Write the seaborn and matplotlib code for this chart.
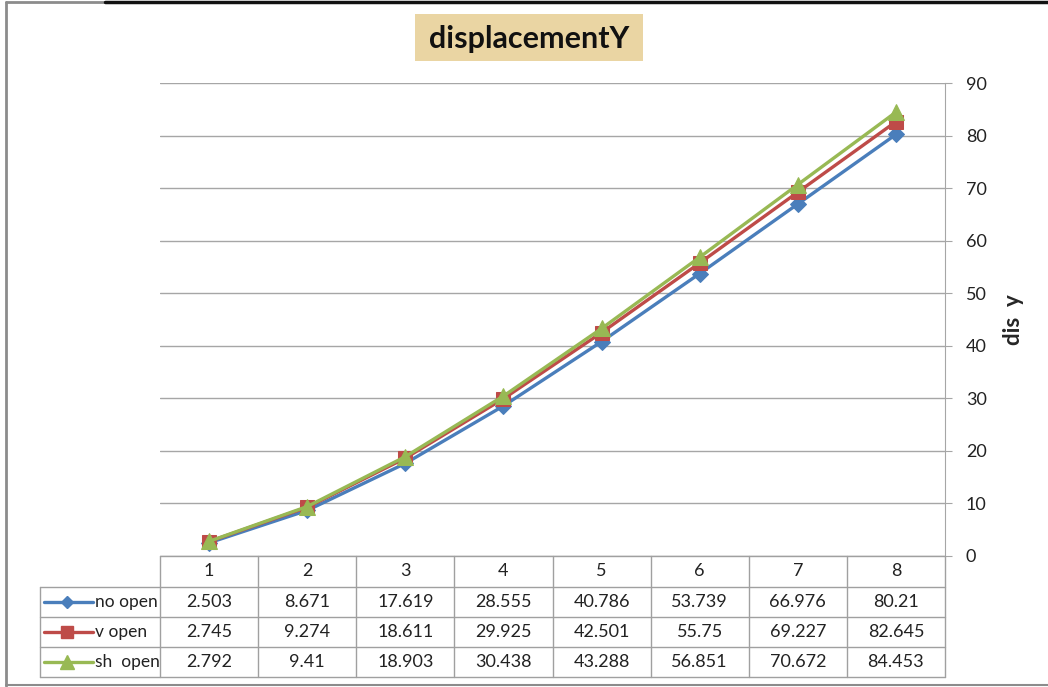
import numpy as np
import pandas as pd
import matplotlib
matplotlib.use("Agg")
import matplotlib.pyplot as plt
import seaborn as sns
from matplotlib.lines import Line2D
from matplotlib.patches import Rectangle

steps = [1, 2, 3, 4, 5, 6, 7, 8]
no_open = [2.503, 8.671, 17.619, 28.555, 40.786, 53.739, 66.976, 80.21]
v_open = [2.745, 9.274, 18.611, 29.925, 42.501, 55.75, 69.227, 82.645]
sh_open = [2.792, 9.41, 18.903, 30.438, 43.288, 56.851, 70.672, 84.453]
series_names = ["no open", "v open", "sh  open"]
y_ticks = [0, 10, 20, 30, 40, 50, 60, 70, 80, 90]

colors = {"no open": "#4a7ebb", "v open": "#be4b48", "sh  open": "#98b954"}
markers = {"no open": "D", "v open": "s", "sh  open": "^"}
msizes = {"no open": 8, "v open": 9.5, "sh  open": 11.5}

sns.set_style("white")
plt.rcParams['font.family'] = ['Lato', 'DejaVu Sans']

W, H = 1048, 687
fig = plt.figure(figsize=(W / 100, H / 100), dpi=100)


def px_axes(l, t, r, b):
    return fig.add_axes([l / W, 1 - b / H, (r - l) / W, (b - t) / H])


grid_col = "#a6a6a6"
tbl_col = "#a0a0a0"
txt_col = "#222222"
fs = 13

# --- main plot ---
ax = px_axes(160, 83, 945, 556)
all_vals = [no_open, v_open, sh_open]
df = pd.DataFrame({
    "pos": np.tile(np.arange(len(steps)), 3),
    "value": no_open + v_open + sh_open,
    "series": np.repeat(series_names, len(steps)),
})
for name in series_names:
    sub = df[df["series"] == name]
    sns.lineplot(data=sub, x="pos", y="value", color=colors[name],
                 marker=markers[name], markersize=msizes[name],
                 markeredgecolor=colors[name], linewidth=2.4, ax=ax)

ax.set_xlim(-0.5, len(steps) - 0.5)
ax.set_ylim(0, 90)
ax.set_yticks(y_ticks)
ax.set_xticks([])
ax.yaxis.tick_right()
ax.tick_params(axis="y", which="major", length=5, color=grid_col,
               labelsize=fs, labelcolor=txt_col, pad=10, right=True)
ax.grid(axis="y", color=grid_col, linewidth=1)
ax.grid(axis="x", visible=False)
for s in ["top", "left", "bottom"]:
    ax.spines[s].set_visible(False)
ax.spines["right"].set_color(grid_col)
ax.set_xlabel("")
ax.yaxis.set_label_position("right")
ax.set_ylabel("dis  y", fontsize=16, fontweight="bold", labelpad=12)

# --- data table ---
cw = 98.125
left_px = 40
tx = px_axes(left_px, 556, 945, 677)
x0 = -0.5 - (160 - left_px) / cw
tx.set_xlim(x0, len(steps) - 0.5)
row_edges = [0, 31, 61, 91, 121]
tx.set_ylim(121, 0)
tx.axis("off")

tx.plot([-0.5, len(steps) - 0.5], [0, 0], color=tbl_col, lw=1, clip_on=False)
for y in row_edges[1:]:
    tx.plot([x0, len(steps) - 0.5], [y, y], color=tbl_col, lw=1, clip_on=False)
for b in np.arange(-0.5, len(steps), 1.0):
    tx.plot([b, b], [0, 121], color=tbl_col, lw=1, clip_on=False)
tx.plot([x0, x0], [31, 121], color=tbl_col, lw=1, clip_on=False)

for i, s in enumerate(steps):
    tx.text(i, 15.5, str(s), ha="center", va="center", fontsize=fs,
            color=txt_col)


def px2x(px):
    return -0.5 + (px - 160) / cw


for r, (name, vals) in enumerate(zip(series_names, all_vals)):
    yc = (row_edges[r + 1] + row_edges[r + 2]) / 2
    tx.plot([px2x(44), px2x(93)], [yc, yc], color=colors[name], lw=2.4,
            clip_on=False)
    tx.plot([px2x(67)], [yc], marker=markers[name], ms=msizes[name] - 1.5,
            color=colors[name], clip_on=False)
    tx.text(px2x(95), yc, name, ha="left", va="center", fontsize=12.5,
            color=txt_col)
    for i, v in enumerate(vals):
        tx.text(i, yc, str(v), ha="center", va="center", fontsize=fs,
                color=txt_col)

# --- title with parchment box ---
fig.patches.append(Rectangle((415 / W, 1 - 61 / H), 228 / W, 47 / H,
                             transform=fig.transFigure, facecolor="#ead5a3",
                             edgecolor="none"))
fig.text(529 / W, 1 - 39 / H, "displacementY", ha="center", va="center",
         fontsize=22, fontweight="bold", color="#111111")

# --- outer frame ---
fig.add_artist(Line2D([6 / W, 6 / W], [1 - 2 / H, 1 - 686 / H],
                      color="#8c8c8c", lw=2))
fig.add_artist(Line2D([6 / W, 105 / W], [1 - 2 / H, 1 - 2 / H],
                      color="#8c8c8c", lw=2))
fig.add_artist(Line2D([105 / W, 1], [1 - 2 / H, 1 - 2 / H],
                      color="#111111", lw=2.5))
fig.add_artist(Line2D([6 / W, 1], [1 - 685 / H, 1 - 685 / H],
                      color="#8c8c8c", lw=1.5))

fig.savefig("out.png", dpi=100)
